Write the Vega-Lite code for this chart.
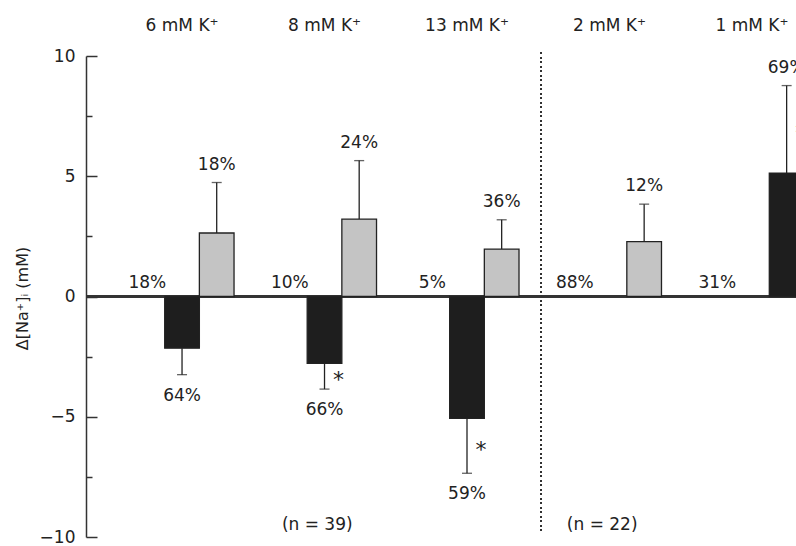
{
  "$schema": "https://vega.github.io/schema/vega-lite/v6.json",
  "autosize": {"type": "none"},
  "padding": {"left": 86, "top": 56, "right": 0, "bottom": 9},
  "width": 710,
  "height": 481,
  "background": "white",
  "config": {
    "view": {"stroke": null},
    "font": "DejaVu Sans",
    "text": {"font": "DejaVu Sans", "fontSize": 17, "color": "#222"}
  },
  "datasets": {
    "bars": [
      {"condition": "6 mM K⁺", "response": "none", "value": 0, "err": null, "pct": "18%", "kind": "none", "sig": false},
      {"condition": "6 mM K⁺", "response": "decrease", "value": -2.15, "err": -3.25, "pct": "64%", "kind": "major", "sig": false},
      {"condition": "6 mM K⁺", "response": "increase", "value": 2.64, "err": 4.74, "pct": "18%", "kind": "minor", "sig": false},
      {"condition": "8 mM K⁺", "response": "none", "value": 0, "err": null, "pct": "10%", "kind": "none", "sig": false},
      {"condition": "8 mM K⁺", "response": "decrease", "value": -2.78, "err": -3.85, "pct": "66%", "kind": "major", "sig": true},
      {"condition": "8 mM K⁺", "response": "increase", "value": 3.22, "err": 5.65, "pct": "24%", "kind": "minor", "sig": false},
      {"condition": "13 mM K⁺", "response": "none", "value": 0, "err": null, "pct": "5%", "kind": "none", "sig": false},
      {"condition": "13 mM K⁺", "response": "decrease", "value": -5.07, "err": -7.35, "pct": "59%", "kind": "major", "sig": true},
      {"condition": "13 mM K⁺", "response": "increase", "value": 1.97, "err": 3.19, "pct": "36%", "kind": "minor", "sig": false},
      {"condition": "2 mM K⁺", "response": "none", "value": 0, "err": null, "pct": "88%", "kind": "none", "sig": false},
      {"condition": "2 mM K⁺", "response": "increase", "value": 2.28, "err": 3.84, "pct": "12%", "kind": "minor", "sig": false},
      {"condition": "1 mM K⁺", "response": "none", "value": 0, "err": null, "pct": "31%", "kind": "none", "sig": false},
      {"condition": "1 mM K⁺", "response": "increase", "value": 5.13, "err": 8.77, "pct": "69%", "kind": "major", "sig": true}
    ],
    "notes": [
      {"condition": "8 mM K⁺", "label": "(n = 39)"},
      {"condition": "2 mM K⁺", "label": "(n = 22)"}
    ]
  },
  "data": {"name": "bars"},
  "layer": [
    {
      "mark": {"type": "rule", "color": "#333", "strokeWidth": 1.5},
      "encoding": {
        "y": {"datum": 0, "type": "quantitative", "scale": {"domain": [-10, 10], "nice": false}}
      }
    },
    {
      "mark": {"type": "rule", "color": "#333", "strokeWidth": 1.5, "strokeDash": [1.5, 3]},
      "encoding": {
        "x": {"datum": "2 mM K⁺", "type": "nominal", "bandPosition": -0.16},
        "y": {"datum": 10.15, "type": "quantitative"},
        "y2": {"datum": -9.75}
      }
    },
    {
      "transform": [{"filter": "datum.response != 'none'"}],
      "mark": {"type": "bar", "stroke": "#222", "strokeWidth": 1.3},
      "encoding": {
        "x": {
          "field": "condition", "type": "nominal",
          "scale": {"domain": ["6 mM K⁺", "8 mM K⁺", "13 mM K⁺", "2 mM K⁺", "1 mM K⁺"], "range": [0, 762], "paddingInner": 0.27, "paddingOuter": 0.309},
          "axis": {"orient": "top", "title": null, "domain": false, "ticks": false, "labelPadding": 22, "labelFontSize": 17, "labelFont": "DejaVu Sans", "labelColor": "#222", "labelAngle": 0, "labelAlign": "center", "labelBaseline": "bottom"}
        },
        "xOffset": {"field": "response", "type": "nominal", "scale": {"domain": ["none", "decrease", "increase"], "paddingInner": 0, "paddingOuter": 0}},
        "y": {
          "field": "value", "type": "quantitative",
          "scale": {"domain": [-10, 10], "nice": false},
          "axis": {
            "title": "Δ[Na⁺]ᵢ (mM)",
            "values": [-10, -7.5, -5, -2.5, 0, 2.5, 5, 7.5, 10],
            "labelExpr": "datum.value % 5 === 0 ? datum.label : ''",
            "tickSize": {"condition": {"test": "datum.value % 5 === 0", "value": -11}, "value": -6},
            "labelPadding": 22,
            "labelFontSize": 17,
            "labelFont": "DejaVu Sans",
            "labelColor": "#222",
            "tickColor": "#333",
            "tickWidth": 1.5,
            "domainColor": "#333",
            "domainWidth": 1.5,
            "grid": false,
            "titleFont": "DejaVu Sans",
            "titleFontSize": 16,
            "titleFontWeight": "normal",
            "titleColor": "#222",
            "titleX": -64,
            "titleY": 242,
            "titleAngle": -90,
            "titleAlign": "center",
            "titleBaseline": "middle"
          }
        },
        "color": {"field": "kind", "type": "nominal", "scale": {"domain": ["major", "minor"], "range": ["#1e1e1e", "#c4c4c4"]}, "legend": null}
      }
    },
    {
      "transform": [{"filter": "datum.response == 'none'"}],
      "mark": {"type": "tick", "color": "#333", "thickness": 3, "size": 34},
      "encoding": {
        "x": {"field": "condition", "type": "nominal"},
        "xOffset": {"field": "response", "type": "nominal"},
        "y": {"field": "value", "type": "quantitative"}
      }
    },
    {
      "transform": [{"filter": "datum.response != 'none'"}],
      "mark": {"type": "rule", "color": "#222", "strokeWidth": 1.3},
      "encoding": {
        "x": {"field": "condition", "type": "nominal"},
        "xOffset": {"field": "response", "type": "nominal"},
        "y": {"field": "value", "type": "quantitative"},
        "y2": {"field": "err"}
      }
    },
    {
      "transform": [{"filter": "datum.response != 'none'"}],
      "mark": {"type": "tick", "color": "#222", "thickness": 1.3, "size": 10},
      "encoding": {
        "x": {"field": "condition", "type": "nominal"},
        "xOffset": {"field": "response", "type": "nominal"},
        "y": {"field": "err", "type": "quantitative"}
      }
    },
    {
      "transform": [{"filter": "datum.response == 'none'"}],
      "mark": {"type": "text", "baseline": "middle", "dy": -14},
      "encoding": {
        "x": {"field": "condition", "type": "nominal"},
        "xOffset": {"field": "response", "type": "nominal"},
        "y": {"field": "value", "type": "quantitative"},
        "text": {"field": "pct"}
      }
    },
    {
      "transform": [{"filter": "datum.response != 'none' && datum.err > 0"}],
      "mark": {"type": "text", "baseline": "middle", "dy": -18},
      "encoding": {
        "x": {"field": "condition", "type": "nominal"},
        "xOffset": {"field": "response", "type": "nominal"},
        "y": {"field": "err", "type": "quantitative"},
        "text": {"field": "pct"}
      }
    },
    {
      "transform": [{"filter": "datum.response != 'none' && datum.err < 0"}],
      "mark": {"type": "text", "baseline": "middle", "dy": 21},
      "encoding": {
        "x": {"field": "condition", "type": "nominal"},
        "xOffset": {"field": "response", "type": "nominal"},
        "y": {"field": "err", "type": "quantitative"},
        "text": {"field": "pct"}
      }
    },
    {
      "transform": [{"filter": "datum.sig"}, {"calculate": "(datum.value + datum.err) / 2", "as": "mid"}],
      "mark": {"type": "text", "baseline": "middle", "dx": 14, "dy": 4, "fontSize": 22, "text": "*"},
      "encoding": {
        "x": {"field": "condition", "type": "nominal"},
        "xOffset": {"field": "response", "type": "nominal"},
        "y": {"field": "mid", "type": "quantitative"}
      }
    },
    {
      "data": {"name": "notes"},
      "mark": {"type": "text", "baseline": "middle"},
      "encoding": {
        "x": {"field": "condition", "type": "nominal", "bandPosition": 0.43},
        "y": {"datum": -9.5, "type": "quantitative"},
        "text": {"field": "label"}
      }
    }
  ]
}
